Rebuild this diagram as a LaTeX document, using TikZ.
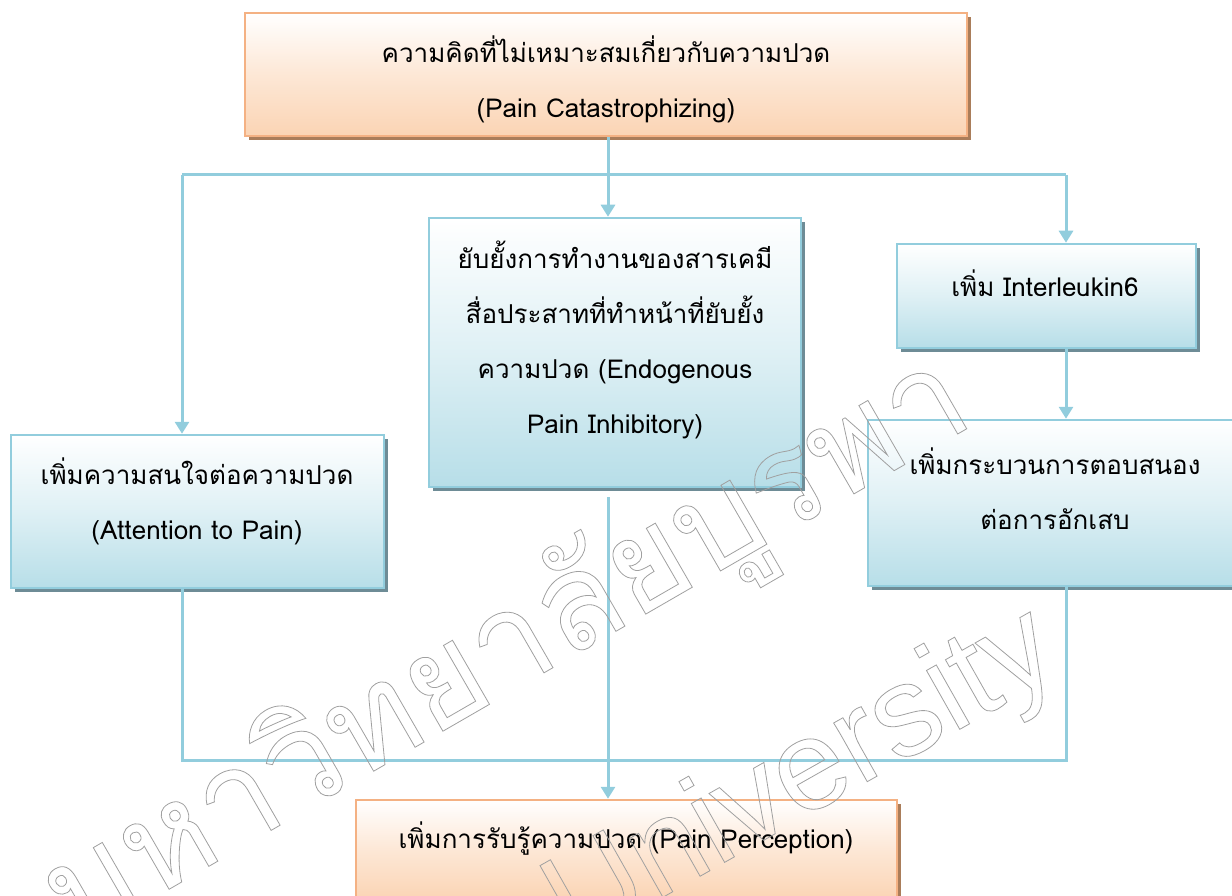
\documentclass[tikz,border=0pt]{standalone}
\usepackage{fontspec}
\setmainfont{Loma}[Script=Thai]
\newfontfamily\wmlatin{Liberation Sans}
\usetikzlibrary{arrows.meta,shadows}
\definecolor{lineblue}{RGB}{146,205,221}
\definecolor{boxblue}{RGB}{183,222,232}
\definecolor{edgeorange}{RGB}{244,177,131}
\definecolor{boxorange}{RGB}{251,212,180}
\definecolor{shblue}{RGB}{110,140,150}
\definecolor{shorange}{RGB}{170,125,90}
\definecolor{wmgray}{RGB}{160,160,160}
\begin{document}
\begin{tikzpicture}[x=1pt,y=-1pt,
  conn/.style={draw=lineblue,line width=3pt},
  arr/.style={conn,-{Triangle[width=14pt,length=12pt]}},
  bluebox/.style={draw=lineblue,line width=2.5pt,inner sep=0pt,
    top color=white,bottom color=boxblue,middle color=boxblue!45!white,
    general shadow={fill=shblue,shadow xshift=4pt,shadow yshift=-4pt}},
  orangebox/.style={draw=edgeorange,line width=2.5pt,inner sep=0pt,
    top color=white,bottom color=boxorange,middle color=boxorange!55!white,
    general shadow={fill=shorange,shadow xshift=4pt,shadow yshift=-4pt}},
  txt/.style={align=center,inner sep=0pt,font=\fontsize{26}{55}\selectfont},
  wm/.style={text=wmgray,inner sep=0pt}
]
\useasboundingbox (0,0) rectangle (1232,896);
% coordinates for connector corners
\coordinate (hl) at (182,175);
\coordinate (hr) at (1066,175);
\coordinate (bl) at (182,760);
\coordinate (br) at (1066,760);
\coordinate (ms) at (608,497);
% boxes
\path (606,74.5) node[orangebox,minimum width=722pt,minimum height=123pt] (top) {};
\path (615,352.5) node[bluebox,minimum width=372pt,minimum height=269pt] (mid) {};
\path (197.5,511.5) node[bluebox,minimum width=373pt,minimum height=153pt] (left) {};
\path (1046.5,296) node[bluebox,minimum width=299pt,minimum height=104pt] (rt) {};
\path (1055,503) node[bluebox,minimum width=374pt,minimum height=166pt] (rb) {};
\path (626.5,850) node[orangebox,minimum width=541pt,minimum height=100pt] (bot) {};
% connectors
\draw[arr] (top.south -| ms) -- (ms |- mid.north);
\draw[conn] (hl) -- (hr);
\draw[arr] (hl) -- (hl |- left.north);
\draw[arr] (hr) -- (hr |- rt.north);
\draw[arr] (rt.south -| hr) -- (rb.north -| hr);
\draw[conn] (left.south -| bl) -- (bl) -- (br) -- (rb.south -| br);
\draw[arr] (ms) -- (ms |- bot.north);
% texts
\node[txt] (ttop) at (606,79) {ความคิดที่ไม่เหมาะสมเกี่ยวกับความปวด\\(Pain Catastrophizing)};
\node[txt] (tmid) at (615,340) {ยับยั้งการทำงานของสารเคมี\\สื่อประสาทที่ทำหน้าที่ยับยั้ง\\ความปวด (Endogenous\\Pain Inhibitory)};
\node[txt] (tleft) at (197,501) {เพิ่มความสนใจต่อความปวด\\(Attention to Pain)};
\node[txt] (trt) at (1045,283) {เพิ่ม Interleukin6};
\node[txt] (trb) at (1055,489) {เพิ่มกระบวนการตอบสนอง\\ต่อการอักเสบ};
\node[txt] (tbot) at (626,839) {เพิ่มการรับรู้ความปวด (Pain Perception)};
% watermark
\node[wm,rotate=30,font=\fontsize{133}{133}\selectfont] (wmthai) at (508,652)
  {\special{pdf:literal direct 1 Tr 0.8 w}มหาวิทยาลัยบูรพา\special{pdf:literal direct 0 Tr}};
\node[wm,rotate=29.5,font=\wmlatin\fontsize{128}{128}\selectfont] (wmuni) at (803,780)
  {\special{pdf:literal direct 1 Tr 0.8 w}University\special{pdf:literal direct 0 Tr}};
\end{tikzpicture}
\end{document}
